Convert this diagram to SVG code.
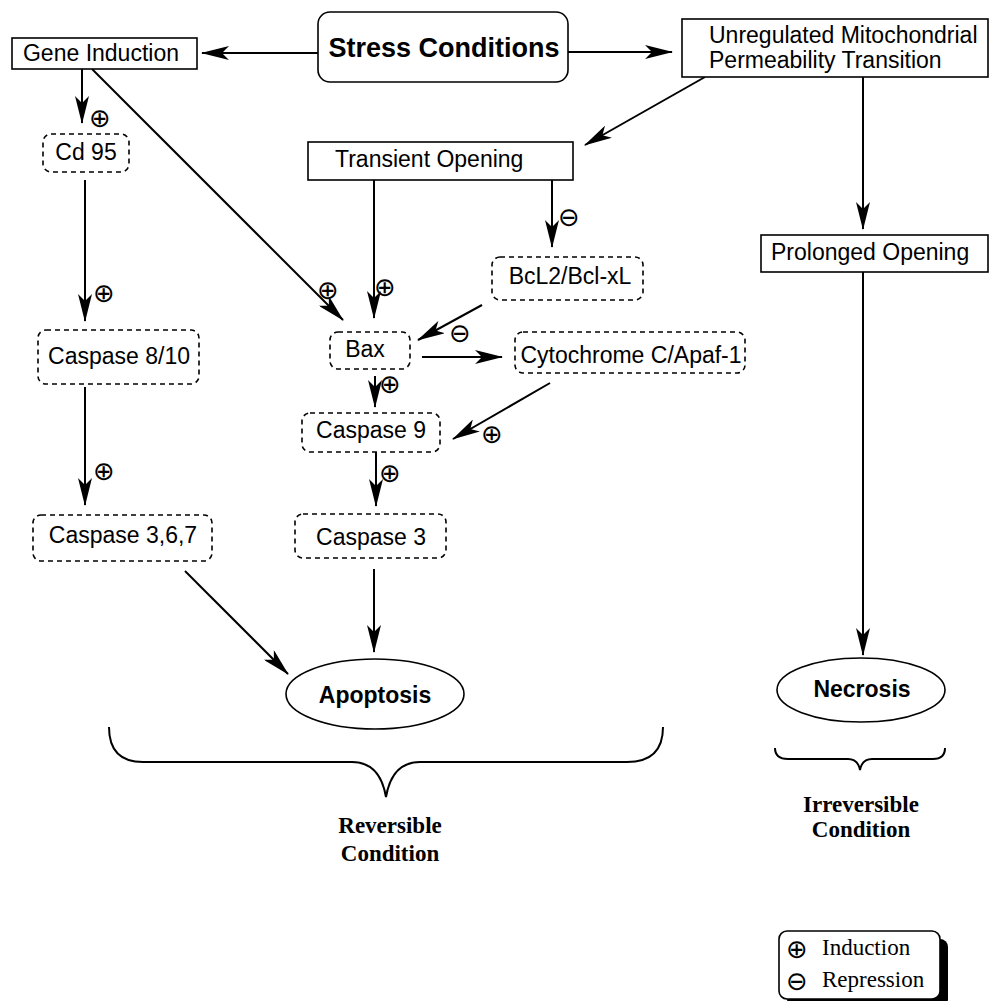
<svg xmlns="http://www.w3.org/2000/svg" width="990" height="1001" viewBox="0 0 990 1001">
<defs>
<style>
.box{fill:#fff;stroke:#000;stroke-width:1.6}
.dbox{fill:#fff;stroke:#000;stroke-width:1.6;stroke-dasharray:5 4}
.t{font-family:"Liberation Sans",Arial,sans-serif;font-size:23px;fill:#000}
.tb{font-family:"Liberation Sans",Arial,sans-serif;font-size:23px;font-weight:bold;fill:#000}
.ts{font-family:"Liberation Serif","Times New Roman",serif;font-size:23px;fill:#000}
.tsb{font-family:"Liberation Serif","Times New Roman",serif;font-size:23px;font-weight:bold;fill:#000}
.sym{font-family:"DejaVu Sans",sans-serif;font-size:26px;fill:#000;text-anchor:middle}
.c line{stroke:#000;stroke-width:2;marker-end:url(#ah)}
.brace{fill:none;stroke:#000;stroke-width:2}
</style>
<marker id="ah" viewBox="0 0 28 14" refX="27" refY="7" markerWidth="28" markerHeight="14" markerUnits="userSpaceOnUse" orient="auto">
<path d="M0,0 L28,7 L0,14 L7,7 Z" fill="#000"/>
</marker>
</defs>
<rect width="990" height="1001" fill="#fff"/>

<g id="connectors" class="c">
<line x1="318" y1="53" x2="202" y2="53"/>
<line x1="568" y1="52" x2="672" y2="52"/>
<line x1="82" y1="69" x2="82" y2="123"/>
<line x1="92" y1="69" x2="343" y2="320"/>
<line x1="705" y1="77" x2="585" y2="145"/>
<line x1="374" y1="180" x2="374" y2="318"/>
<line x1="552" y1="180" x2="552" y2="247"/>
<line x1="482" y1="305" x2="418" y2="340"/>
<line x1="422" y1="357" x2="502" y2="357"/>
<line x1="375" y1="376" x2="375" y2="407"/>
<line x1="550" y1="383" x2="453" y2="439"/>
<line x1="376" y1="452" x2="376" y2="506"/>
<line x1="374" y1="569" x2="374" y2="652"/>
<line x1="185" y1="571" x2="288" y2="674"/>
<line x1="85" y1="180" x2="85" y2="321"/>
<line x1="85" y1="387" x2="85" y2="505"/>
<line x1="863" y1="77" x2="863" y2="229"/>
<line x1="863" y1="272" x2="863" y2="655"/>
</g>

<g id="signs">
<text class="sym" x="100" y="127">⊕</text>
<text class="sym" x="104" y="302">⊕</text>
<text class="sym" x="104" y="480">⊕</text>
<text class="sym" x="328" y="299">⊕</text>
<text class="sym" x="385" y="296">⊕</text>
<text class="sym" x="569" y="226">⊖</text>
<text class="sym" x="460" y="342">⊖</text>
<text class="sym" x="390" y="393">⊕</text>
<text class="sym" x="492" y="443">⊕</text>
<text class="sym" x="390" y="482">⊕</text>
</g>

<g id="stress">
<rect class="box" x="318" y="12" width="250" height="70" rx="12"/>
<text class="tb" x="444" y="57" text-anchor="middle" style="font-size:27px">Stress Conditions</text>
</g>
<g id="gene-induction">
<rect class="box" x="12" y="38" width="185" height="31"/>
<text class="t" x="101" y="61" text-anchor="middle">Gene Induction</text>
</g>
<g id="unregulated">
<rect class="box" x="682" y="19" width="306" height="58"/>
<text class="t" x="709" y="43">Unregulated Mitochondrial</text>
<text class="t" x="709" y="68">Permeability Transition</text>
</g>
<g id="cd95">
<rect class="dbox" x="43" y="134" width="86" height="38" rx="8"/>
<text class="t" x="86" y="160" text-anchor="middle">Cd 95</text>
</g>
<g id="transient">
<rect class="box" x="308" y="142" width="265" height="38"/>
<text class="t" x="335" y="167">Transient Opening</text>
</g>
<g id="bcl2">
<rect class="dbox" x="492" y="257" width="151" height="43" rx="8"/>
<text class="t" x="570" y="284" text-anchor="middle">BcL2/Bcl-xL</text>
</g>
<g id="prolonged">
<rect class="box" x="761" y="235" width="227" height="37"/>
<text class="t" x="771" y="260">Prolonged Opening</text>
</g>
<g id="caspase810">
<rect class="dbox" x="38" y="330" width="161" height="54" rx="8"/>
<text class="t" x="119" y="364" text-anchor="middle">Caspase 8/10</text>
</g>
<g id="bax">
<rect class="dbox" x="330" y="332" width="80" height="37" rx="8"/>
<text class="t" x="365" y="357" text-anchor="middle">Bax</text>
</g>
<g id="cytochrome">
<rect class="dbox" x="515" y="332" width="230" height="41" rx="8"/>
<text class="t" x="631" y="363" text-anchor="middle">Cytochrome C/Apaf-1</text>
</g>
<g id="caspase9">
<rect class="dbox" x="302" y="413" width="138" height="39" rx="8"/>
<text class="t" x="371" y="438" text-anchor="middle">Caspase 9</text>
</g>
<g id="caspase367">
<rect class="dbox" x="33" y="515" width="179" height="46" rx="8"/>
<text class="t" x="123" y="543" text-anchor="middle">Caspase 3,6,7</text>
</g>
<g id="caspase3">
<rect class="dbox" x="295" y="514" width="151" height="44" rx="8"/>
<text class="t" x="371" y="545" text-anchor="middle">Caspase 3</text>
</g>
<g id="apoptosis">
<ellipse class="box" cx="375" cy="694" rx="89" ry="35"/>
<text class="tb" x="375" y="703" text-anchor="middle">Apoptosis</text>
</g>
<g id="necrosis">
<ellipse class="box" cx="861" cy="690" rx="84" ry="32"/>
<text class="tb" x="862" y="697" text-anchor="middle">Necrosis</text>
</g>

<g id="reversible">
<path class="brace" d="M109,727 Q109,762 143,762 L352,762 Q380,762 386,797 Q392,762 420,762 L627,762 Q663,762 663,727"/>
<text class="tsb" x="390" y="833" text-anchor="middle">Reversible</text>
<text class="tsb" x="390" y="861" text-anchor="middle">Condition</text>
</g>
<g id="irreversible">
<path class="brace" d="M775,748 Q775,759 788,759 L848,759 Q858,759 860,770 Q862,759 872,759 L933,759 Q945,759 945,748"/>
<text class="tsb" x="861" y="812" text-anchor="middle">Irreversible</text>
<text class="tsb" x="861" y="837" text-anchor="middle">Condition</text>
</g>

<g id="legend">
<rect x="787" y="939" width="161" height="68" rx="8" fill="#000"/>
<rect class="box" x="779" y="931" width="161" height="68" rx="8"/>
<text class="sym" x="797" y="958">⊕</text>
<text class="ts" x="822" y="955">Induction</text>
<text class="sym" x="797" y="990">⊖</text>
<text class="ts" x="822" y="987">Repression</text>
</g>
</svg>
